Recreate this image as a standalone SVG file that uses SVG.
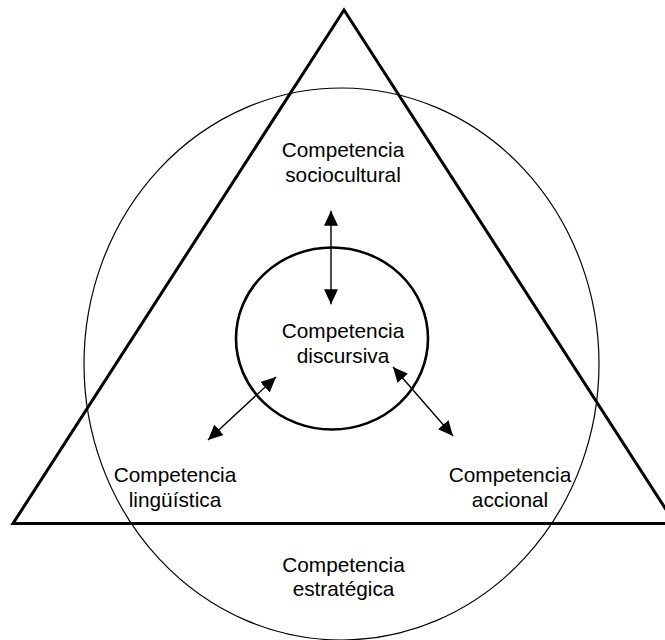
<svg xmlns="http://www.w3.org/2000/svg" width="665" height="640" viewBox="0 0 665 640">
<style>
text{font-family:"Liberation Sans",Arial,sans-serif;font-size:20.8px;fill:#000;text-anchor:middle}
.c{stroke:#000;fill:none}
.a{stroke:#000;stroke-width:1.4;fill:none;marker-start:url(#ah);marker-end:url(#ah)}
</style>
<defs>
<marker id="ah" markerUnits="userSpaceOnUse" markerWidth="16" markerHeight="14" refX="15" refY="7" orient="auto-start-reverse" viewBox="0 0 16 14">
<path d="M0,0 L15,7 L0,14 z" fill="#000"/>
</marker>
</defs>
<rect width="665" height="640" fill="#fff"/>
<g id="estrategica">
<ellipse class="c" cx="341.5" cy="364" rx="257.5" ry="276" stroke-width="1.2"/>
<text x="343.5" y="571.5">Competencia</text>
<text x="343.5" y="596">estratégica</text>
</g>
<g id="triangulo">
<polygon class="c" points="344,10 13,523.5 675,523.5" stroke-width="3"/>
</g>
<g id="discursiva">
<ellipse class="c" cx="332" cy="338.5" rx="96" ry="91" stroke-width="2.6"/>
<text x="343" y="338.3">Competencia</text>
<text x="343" y="362.8">discursiva</text>
</g>
<g id="sociocultural">
<text x="343" y="156.7">Competencia</text>
<text x="343" y="181.5">sociocultural</text>
</g>
<g id="linguistica">
<text x="175" y="482.3">Competencia</text>
<text x="175" y="506.8">lingüística</text>
</g>
<g id="accional">
<text x="510" y="482.3">Competencia</text>
<text x="510" y="506.8">accional</text>
</g>
<g id="connectors">
<line class="a" x1="331" y1="210.7" x2="331" y2="304.3" stroke-width="1.6"/>
<line class="a" x1="208" y1="440" x2="276" y2="377"/>
<line class="a" x1="393" y1="367" x2="453" y2="436"/>
</g>
</svg>
